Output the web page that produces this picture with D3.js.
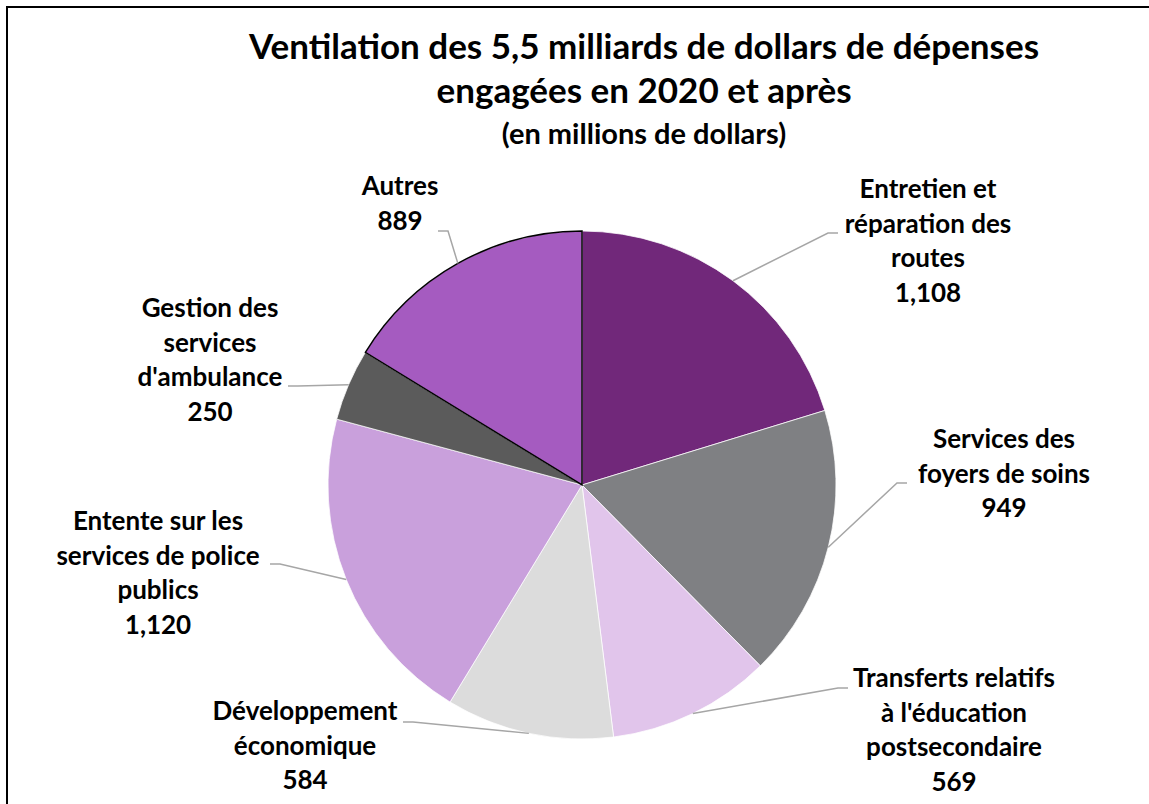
<!DOCTYPE html>
<html>
<head>
<meta charset="utf-8">
<script src="https://cdn.jsdelivr.net/npm/d3@7"></script>
<style>
  body { margin: 0; background: #fff; }
  text { font-family: Lato, "Open Sans", sans-serif; font-weight: bold; fill: #000; }
</style>
</head>
<body>
<script>
// data, clockwise from 12 o'clock
var categories = [
  "Entretien et réparation des routes",
  "Services des foyers de soins",
  "Transferts relatifs à l'éducation postsecondaire",
  "Développement économique",
  "Entente sur les services de police publics",
  "Gestion des services d'ambulance",
  "Autres"
];
var values = [1108, 949, 569, 584, 1120, 250, 889];
var labelLines = [
  ["Entretien et", "réparation des", "routes"],
  ["Services des", "foyers de soins"],
  ["Transferts relatifs", "à l'éducation", "postsecondaire"],
  ["Développement", "économique"],
  ["Entente sur les", "services de police", "publics"],
  ["Gestion des", "services", "d'ambulance"],
  ["Autres"]
];
var colors = ["#71287a", "#7f8083", "#e1c5eb", "#dcdcdc", "#c9a0dc", "#5b5b5b", "#a55bc0"];
var titleLines = ["Ventilation des 5,5 milliards de dollars de dépenses", "engagées en 2020 et après"];
var subtitle = "(en millions de dollars)";

// label placement (x = centre of text block, y = first baseline, elbow = leader line bend)
var labelPos = [
  { x: 928, y: 198, elbow: [828, 233], side: 1 },
  { x: 1004, y: 448, elbow: [897, 483], side: 1 },
  { x: 954, y: 687, elbow: [838, 688], side: 1 },
  { x: 305, y: 720, elbow: [413, 722], side: -1 },
  { x: 158, y: 530, elbow: [280, 564], side: -1 },
  { x: 210, y: 317, elbow: [298, 386], side: -1 },
  { x: 400, y: 195, elbow: [448, 231], side: -1 }
];

var width = 1149, height = 804;
var cx = 582, cy = 485, radius = 254;
var lineH = 34.5;

var svg = d3.select("body").append("svg")
    .attr("width", width)
    .attr("height", height);

// chart frame (cut off at right/bottom in the original)
svg.append("rect")
    .attr("x", 7).attr("y", 7)
    .attr("width", width + 20).attr("height", height + 20)
    .attr("fill", "none")
    .attr("stroke", "#000")
    .attr("stroke-width", 2);

// title
svg.append("text")
    .attr("text-anchor", "middle")
    .style("font-size", "35px")
    .selectAll("tspan")
    .data(titleLines)
    .enter().append("tspan")
    .attr("x", 644)
    .attr("y", function (d, i) { return 59 + i * 44; })
    .text(function (d) { return d; });

svg.append("text")
    .attr("x", 644).attr("y", 144)
    .attr("text-anchor", "middle")
    .style("font-size", "29px")
    .text(subtitle);

var data = categories.map(function (c, i) {
    return { name: c, value: values[i], color: colors[i], lines: labelLines[i], pos: labelPos[i] };
});

var pie = d3.pie()
    .sort(null)
    .value(function (d) { return d.value; });

var arc = d3.arc()
    .innerRadius(0)
    .outerRadius(radius);

var arcs = pie(data);

var g = svg.append("g")
    .attr("transform", "translate(" + cx + "," + cy + ")");

g.selectAll("path")
    .data(arcs)
    .enter().append("path")
    .attr("d", arc)
    .attr("fill", function (d) { return d.data.color; })
    .attr("stroke", "#fff")
    .attr("stroke-width", 0.75);

// the "Autres" slice is outlined in black
g.append("path")
    .datum(arcs[arcs.length - 1])
    .attr("d", arc)
    .attr("fill", "none")
    .attr("stroke", "#000")
    .attr("stroke-width", 1.5);

// leader lines + labels
var fmt = d3.format(",");
arcs.forEach(function (a) {
    var mid = (a.startAngle + a.endAngle) / 2;
    var px = cx + radius * Math.sin(mid),
        py = cy - radius * Math.cos(mid);
    var p = a.data.pos;
    var ex = p.elbow[0] + p.side * 10;
    svg.append("polyline")
        .attr("points", [[px, py], p.elbow, [ex, p.elbow[1]]].map(function (q) { return q.join(","); }).join(" "))
        .attr("fill", "none")
        .attr("stroke", "#a6a6a6")
        .attr("stroke-width", 1.5);

    var lines = a.data.lines.concat([fmt(a.data.value)]);
    svg.append("text")
        .attr("text-anchor", "middle")
        .style("font-size", "26px")
        .selectAll("tspan")
        .data(lines)
        .enter().append("tspan")
        .attr("x", p.x)
        .attr("y", function (d, i) { return p.y + i * lineH; })
        .text(function (d) { return d; });
});
</script>
</body>
</html>
